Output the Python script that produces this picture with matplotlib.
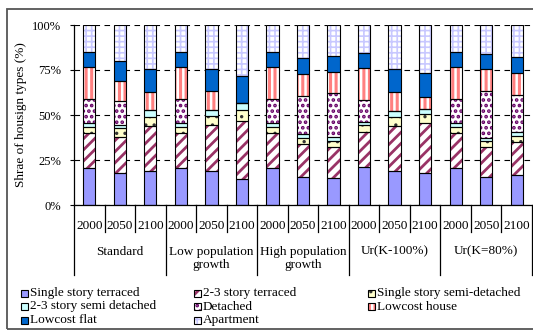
import numpy as np
import matplotlib
matplotlib.use('Agg')
import matplotlib.pyplot as plt
from matplotlib.patches import Rectangle
from matplotlib.transforms import blended_transform_factory

plt.rcParams['font.family'] = ['Liberation Serif', 'DejaVu Serif']

years = ['2000', '2050', '2100']
scenarios = ['Standard', 'Low population\ngrowth', 'High population\ngrowth',
             'Ur(K-100%)', 'Ur(K=80%)']

# shares in %, one value per bar (5 scenarios x 3 years)
sst = [20.4, 17.6, 19.1, 20.4, 19.1, 14.3, 20.4, 15.7, 14.8, 20.9, 19.1, 18.0, 20.4, 15.4, 16.7]
terr23 = [19.8, 20.4, 25.0, 19.8, 25.3, 32.4, 19.8, 18.1, 17.2, 19.7, 25.0, 27.4, 19.4, 16.6, 18.1]
semi1 = [3.3, 4.6, 5.0, 3.3, 5.0, 6.1, 3.3, 3.7, 3.7, 3.7, 5.0, 5.0, 3.7, 3.7, 3.5]
semi23 = [2.2, 1.8, 3.7, 2.2, 3.4, 4.1, 2.2, 2.0, 1.9, 2.0, 3.3, 3.1, 2.2, 1.3, 2.3]
detached = [13.0, 13.6, 0.0, 13.0, 0.0, 0.0, 13.0, 21.3, 24.8, 12.0, 0.0, 0.0, 13.0, 26.1, 20.5]
lc_house = [17.8, 11.1, 10.2, 17.8, 10.7, 0.0, 17.8, 11.9, 11.3, 17.8, 10.2, 6.3, 17.8, 12.6, 12.0]
lc_flat = [8.3, 10.7, 12.7, 8.3, 12.2, 14.8, 8.3, 9.1, 9.1, 8.2, 12.8, 13.7, 8.3, 8.0, 8.9]
apartment = [15.2, 20.2, 24.3, 15.2, 24.3, 28.3, 15.2, 18.1, 17.2, 15.7, 24.6, 26.5, 15.2, 16.3, 18.0]

labels = ['Single story terraced', '2-3 story terraced', 'Single story semi-detached',
          '2-3 story semi detached', 'Detached', 'Lowcost house',
          'Lowcost flat', 'Apartment']
series = [sst, terr23, semi1, semi23, detached, lc_house, lc_flat, apartment]
# (face, hatch, hatch colour, hatch width)
styles = [
    ('#9999FF', None, None, 0),
    ('white', '///', '#993366', 2.0),
    ('#FFFFCC', '..', '#333333', 1.2),
    ('#CCFFFF', None, None, 0),
    ('white', '...', '#660066', 1.8),
    ('white', '|||', '#FF8080', 2.2),
    ('#0066CC', None, None, 0),
    ('white', '+++', '#C8C8FF', 1.2),
]


def hatched(patch, face, hatch, hc, hlw):
    patch.set_facecolor(face)
    if hatch:
        patch.set_hatch(hatch)
        patch.set_edgecolor(hc)
        if hasattr(patch, 'set_hatch_linewidth'):
            patch.set_hatch_linewidth(hlw)
    else:
        patch.set_edgecolor(face)
    patch.set_linewidth(0)


fig = plt.figure(figsize=(5.33, 3.36), dpi=100)
ax = fig.add_axes([74 / 533, 1 - 205 / 336, 458 / 533, 180 / 336])

x = np.arange(len(sst))
w = 0.4
bottom = np.zeros(len(sst))
for vals, (face, hatch, hc, hlw) in zip(series, styles):
    vals = np.array(vals)
    bars = ax.bar(x, vals, w, bottom=bottom, zorder=2)
    for b in bars:
        hatched(b, face, hatch, hc, hlw)
    ax.bar(x, vals, w, bottom=bottom, facecolor='none', edgecolor='black',
           linewidth=0.8, zorder=3)
    bottom += vals

ax.set_xlim(-0.5, len(sst) - 0.5)
ax.set_ylim(0, 100)
ax.set_yticks([0, 25, 50, 75, 100])
ax.set_yticklabels(['0%', '25%', '50%', '75%', '100%'], fontsize=9)
ax.set_xticks([])
ax.tick_params(axis='y', direction='out', length=3, width=0.8, pad=6)
ax.yaxis.grid(True, linestyle=(0, (5, 4)), color='black', linewidth=0.8)
ax.set_axisbelow(True)
for s in ['top', 'right']:
    ax.spines[s].set_visible(False)
for s in ['left', 'bottom']:
    ax.spines[s].set_linewidth(0.9)
ax.set_ylabel('Shrae of housign types (%)', fontsize=9.5, labelpad=4)

# two-level category axis
tr = blended_transform_factory(ax.transData, ax.transAxes)
n = len(sst)
for i in range(n + 1):
    long = (i % 3 == 0)
    y1 = -0.39 if long else -0.15
    ax.plot([i - 0.5, i - 0.5], [0, y1], color='black', lw=0.9,
            transform=tr, clip_on=False)
for i in range(n):
    ax.text(i, -0.118, years[i % 3], transform=tr, ha='center', va='center',
            fontsize=9.5)
for g, name in enumerate(scenarios):
    ax.text(3 * g + 1, -0.225, name, transform=tr, ha='center', va='top',
            fontsize=9.5, linespacing=1.15)

# legend, laid out like the original
order_x = [(21, 293), (194, 293), (368, 293),
           (21, 306.5), (194, 306.5), (368, 306.5),
           (21, 320), (194, 320)]
for lab, (face, hatch, hc, hlw), (px, py) in zip(labels, styles, order_x):
    r = Rectangle((px / 533, 1 - (py + 3.5) / 336), 7 / 533, 7 / 336,
                  transform=fig.transFigure)
    hatched(r, face, hatch, hc, hlw)
    fig.add_artist(r)
    fig.add_artist(Rectangle((px / 533, 1 - (py + 3.5) / 336), 7 / 533, 7 / 336,
                             transform=fig.transFigure, facecolor='none',
                             edgecolor='black', linewidth=0.8))
    fig.text((px + 9) / 533, 1 - py / 336, lab, ha='left', va='center',
             fontsize=9.5)

# outer frame
fig.add_artist(Rectangle((7 / 533, 1 - 329 / 336), 1.2, (329 - 9) / 336,
                         transform=fig.transFigure, facecolor='none',
                         edgecolor='#555555', linewidth=1.3))

fig.savefig('out.png', dpi=100)
